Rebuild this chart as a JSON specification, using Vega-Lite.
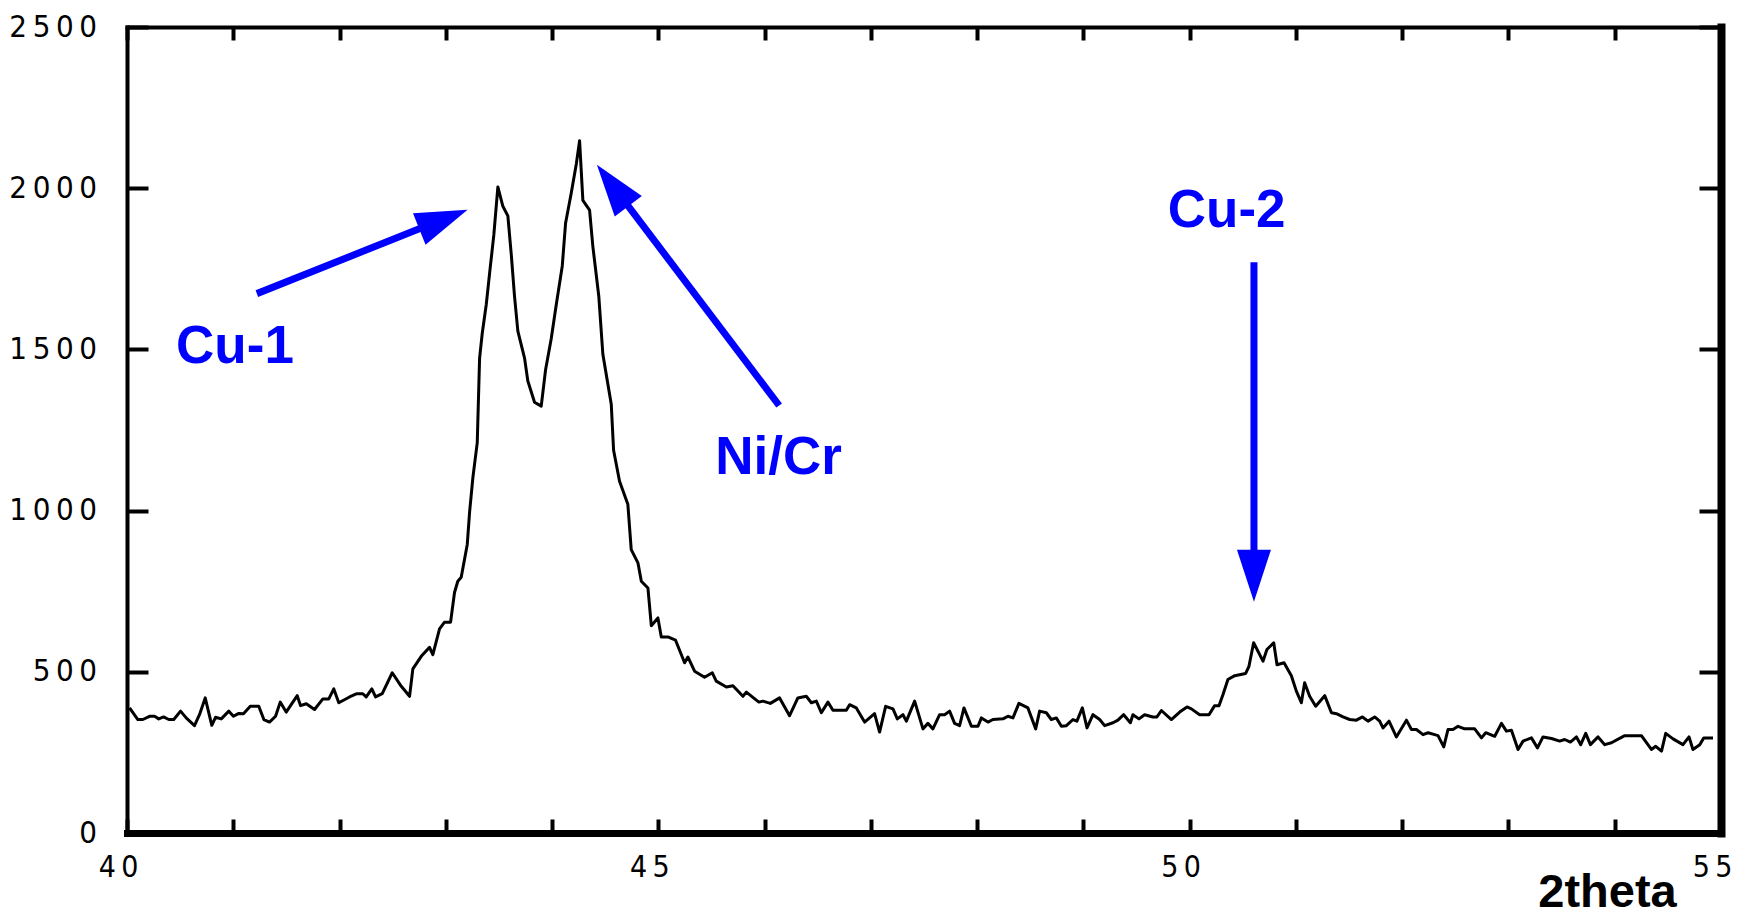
{
  "$schema": "https://vega.github.io/schema/vega-lite/v6.json",
  "width": 1594,
  "height": 806,
  "autosize": {"type": "none"},
  "padding": {"left": 127, "top": 27, "right": 18, "bottom": 86},
  "background": "white",
  "config": {"view": {"stroke": null}, "axis": {"grid": false}},
  "datasets": {
    "xrd": [
      {"t":40.024,"i":388},{"t":40.102,"i":352},{"t":40.149,"i":352},{"t":40.212,"i":362},{"t":40.259,"i":362},{"t":40.299,"i":354},{"t":40.344,"i":360},{"t":40.393,"i":352},{"t":40.44,"i":352},{"t":40.504,"i":378},{"t":40.557,"i":357},{"t":40.635,"i":333},{"t":40.682,"i":367},{"t":40.736,"i":419},{"t":40.798,"i":334},{"t":40.833,"i":359},{"t":40.887,"i":354},{"t":40.958,"i":378},{"t":41.002,"i":362},{"t":41.052,"i":371},{"t":41.096,"i":370},{"t":41.16,"i":393},{"t":41.24,"i":393},{"t":41.288,"i":352},{"t":41.341,"i":344},{"t":41.398,"i":362},{"t":41.442,"i":406},{"t":41.498,"i":375},{"t":41.545,"i":398},{"t":41.602,"i":426},{"t":41.633,"i":395},{"t":41.687,"i":401},{"t":41.765,"i":383},{"t":41.843,"i":416},{"t":41.899,"i":416},{"t":41.946,"i":447},{"t":41.993,"i":404},{"t":42.094,"i":422},{"t":42.163,"i":432},{"t":42.219,"i":432},{"t":42.251,"i":422},{"t":42.304,"i":447},{"t":42.339,"i":422},{"t":42.402,"i":432},{"t":42.496,"i":497},{"t":42.581,"i":455},{"t":42.659,"i":424},{"t":42.69,"i":509},{"t":42.769,"i":548},{"t":42.847,"i":576},{"t":42.878,"i":553},{"t":42.941,"i":633},{"t":42.988,"i":654},{"t":43.045,"i":654},
      {"t":43.082,"i":746},{"t":43.113,"i":781},{"t":43.145,"i":793},{"t":43.202,"i":895},{"t":43.224,"i":996},{"t":43.255,"i":1103},{"t":43.296,"i":1211},{"t":43.318,"i":1473},{"t":43.343,"i":1550},{"t":43.381,"i":1640},{"t":43.412,"i":1736},{"t":43.452,"i":1855},{"t":43.49,"i":2004},{"t":43.537,"i":1944},{"t":43.584,"i":1914},{"t":43.616,"i":1795},{"t":43.647,"i":1664},{"t":43.678,"i":1557},{"t":43.741,"i":1473},{"t":43.772,"i":1402},{"t":43.835,"i":1336},{"t":43.898,"i":1324},{"t":43.939,"i":1437},{"t":43.992,"i":1533},{"t":44.04,"i":1640},{"t":44.096,"i":1759},{"t":44.127,"i":1891},{"t":44.181,"i":1986},{"t":44.228,"i":2075},{"t":44.259,"i":2147},{"t":44.29,"i":1962},{"t":44.353,"i":1932},{"t":44.384,"i":1819},{"t":44.44,"i":1664},{"t":44.478,"i":1485},{"t":44.557,"i":1330},{"t":44.579,"i":1187},{"t":44.635,"i":1091},{"t":44.713,"i":1020},
      {"t":44.745,"i":879},{"t":44.808,"i":838},{"t":44.84,"i":781},{"t":44.902,"i":760},{"t":44.934,"i":643},{"t":44.996,"i":667},{"t":45.028,"i":608},{"t":45.09,"i":608},{"t":45.162,"i":598},{"t":45.247,"i":528},{"t":45.278,"i":546},{"t":45.341,"i":502},{"t":45.435,"i":483},{"t":45.508,"i":497},{"t":45.545,"i":471},{"t":45.64,"i":453},{"t":45.702,"i":457},{"t":45.796,"i":424},{"t":45.828,"i":437},{"t":45.946,"i":406},{"t":45.984,"i":409},{"t":46.054,"i":402},{"t":46.141,"i":419},{"t":46.235,"i":364},{"t":46.313,"i":419},{"t":46.392,"i":424},{"t":46.44,"i":404},{"t":46.487,"i":409},{"t":46.534,"i":373},{"t":46.596,"i":406},{"t":46.643,"i":381},{"t":46.769,"i":381},{"t":46.8,"i":398},{"t":46.863,"i":388},{"t":46.941,"i":344},{"t":47.035,"i":370},{"t":47.082,"i":313},{"t":47.139,"i":393},{"t":47.208,"i":385},{"t":47.249,"i":354},{"t":47.302,"i":367},{"t":47.334,"i":347},{"t":47.412,"i":409},{"t":47.49,"i":323},{"t":47.537,"i":340},{"t":47.584,"i":323},{"t":47.647,"i":367},{"t":47.694,"i":367},{"t":47.741,"i":378},{"t":47.788,"i":340},{"t":47.835,"i":333},{"t":47.876,"i":388},{"t":47.946,"i":331},{"t":48.008,"i":331},{"t":48.04,"i":357},{"t":48.102,"i":344},{"t":48.149,"i":352},{"t":48.243,"i":354},{"t":48.29,"i":362},{"t":48.337,"i":357},{"t":48.393,"i":402},{"t":48.478,"i":388},{"t":48.551,"i":323},{"t":48.588,"i":378},{"t":48.651,"i":373},{"t":48.698,"i":352},{"t":48.745,"i":357},{"t":48.793,"i":331},{"t":48.84,"i":333},{"t":48.902,"i":352},{"t":48.939,"i":347},{"t":48.99,"i":388},{"t":49.034,"i":326},{"t":49.09,"i":367},{"t":49.153,"i":352},
      {"t":49.2,"i":333},{"t":49.278,"i":342},{"t":49.325,"i":350},{"t":49.379,"i":367},{"t":49.442,"i":342},{"t":49.466,"i":367},{"t":49.523,"i":354},{"t":49.576,"i":367},{"t":49.654,"i":360},{"t":49.692,"i":360},{"t":49.734,"i":380},{"t":49.828,"i":352},{"t":49.906,"i":375},{"t":49.975,"i":391},{"t":50.016,"i":385},{"t":50.094,"i":367},{"t":50.182,"i":367},{"t":50.235,"i":395},{"t":50.276,"i":395},{"t":50.313,"i":429},{"t":50.36,"i":476},{"t":50.424,"i":488},{"t":50.527,"i":495},{"t":50.558,"i":517},{"t":50.602,"i":590},{"t":50.69,"i":533},{"t":50.727,"i":569},{"t":50.791,"i":590},{"t":50.822,"i":522},{"t":50.888,"i":528},{"t":50.957,"i":488},{"t":51.004,"i":440},{"t":51.051,"i":404},{"t":51.082,"i":466},{"t":51.129,"i":424},{"t":51.186,"i":393},{"t":51.271,"i":426},{"t":51.334,"i":373},{"t":51.381,"i":370},{"t":51.443,"i":360},{"t":51.506,"i":352},{"t":51.569,"i":350},{"t":51.626,"i":360},{"t":51.678,"i":347},{"t":51.741,"i":360},
      {"t":51.788,"i":347},{"t":51.819,"i":326},{"t":51.876,"i":347},{"t":51.945,"i":298},{"t":52.04,"i":350},{"t":52.087,"i":321},{"t":52.134,"i":321},{"t":52.196,"i":305},{"t":52.243,"i":311},{"t":52.306,"i":305},{"t":52.337,"i":302},{"t":52.391,"i":267},{"t":52.431,"i":321},{"t":52.478,"i":321},{"t":52.525,"i":331},{"t":52.588,"i":323},{"t":52.682,"i":323},{"t":52.746,"i":295},{"t":52.786,"i":311},{"t":52.831,"i":305},{"t":52.871,"i":300},{"t":52.934,"i":340},{"t":52.981,"i":316},{"t":53.028,"i":319},{"t":53.09,"i":259},{"t":53.137,"i":285},{"t":53.216,"i":295},{"t":53.273,"i":264},{"t":53.325,"i":298},{"t":53.405,"i":293},{"t":53.482,"i":285},{"t":53.529,"i":290},{"t":53.583,"i":282},{"t":53.64,"i":298},{"t":53.68,"i":274},{"t":53.727,"i":309},{"t":53.771,"i":274},{"t":53.843,"i":298},{"t":53.906,"i":274},{"t":53.969,"i":280},{"t":54.094,"i":302},{"t":54.251,"i":302},{"t":54.345,"i":259},{"t":54.386,"i":269},{"t":54.44,"i":254},{"t":54.48,"i":309},{"t":54.549,"i":292},{"t":54.642,"i":274},{"t":54.699,"i":298},{"t":54.736,"i":259},{"t":54.8,"i":274},{"t":54.838,"i":295},{"t":54.925,"i":295}
    ],
    "arrows": [
      {"name":"Cu-1","xs":41.222,"ys":1673,"xe":42.986,"ye":1905,"xt":43.205,"yt":1933},
      {"name":"Ni/Cr","xs":46.137,"ys":1326,"xe":44.564,"ye":2011,"xt":44.422,"yt":2073},
      {"name":"Cu-2","xs":50.605,"ys":1770,"xe":50.605,"ye":795,"xt":50.605,"yt":717}
    ],
    "labels": [
      {"name":"Cu-1","x":41.016,"y":1459},
      {"name":"Ni/Cr","x":46.132,"y":1112},
      {"name":"Cu-2","x":50.348,"y":1881}
    ]
  },
  "layer": [
    {
      "data": {"name": "xrd"},
      "mark": {"type": "line", "color": "black", "strokeWidth": 3, "strokeJoin": "round"},
      "encoding": {
        "x": {
          "field": "t", "type": "quantitative",
          "scale": {"domain": [40, 55], "nice": false, "zero": false},
          "axis": {
            "orient": "bottom",
            "values": [40,41,42,43,44,45,46,47,48,49,50,51,52,53,54,55],
            "format": "d",
            "labelExpr": "datum.value % 5 === 0 ? join(split(datum.label, ''), '\u2009') : ''",
            "tickSize": -14, "tickWidth": 4, "tickColor": "black",
            "domainColor": "black", "domainWidth": 7, "domainCap": "square",
            "labelFont": "DejaVu Sans Condensed",
            "labelFontSize": 30, "labelColor": "black", "labelPadding": 33.5,
            "labelBaseline": "top", "labelOffset": -9, "labelFlush": false, "labelOverlap": false, "labelBound": false,
            "title": "2theta", "titleX": 1480, "titleY": 73, "titleBaseline": "alphabetic",
            "titleAlign": "center", "titleAnchor": null, "titleFont": "Liberation Sans", "titleFontSize": 47,
            "titleFontWeight": "bold", "titleColor": "black", "titleAngle": 0
          }
        },
        "y": {
          "field": "i", "type": "quantitative",
          "scale": {"domain": [0, 2500], "nice": false, "zero": true},
          "axis": {
            "orient": "left",
            "values": [0, 500, 1000, 1500, 2000, 2500],
            "format": "d",
            "labelExpr": "join(split(datum.label, ''), '\u2009')",
            "tickSize": -21, "tickWidth": 4, "tickColor": "black",
            "domainColor": "black", "domainWidth": 4, "domainCap": "square",
            "labelFont": "DejaVu Sans Condensed",
            "labelFontSize": 31, "labelColor": "black", "labelPadding": 51.5,
            "labelBaseline": "middle", "labelAlign": "right", "labelFlush": false, "labelOverlap": false, "labelBound": false,
            "title": null
          }
        }
      }
    },
    {
      "data": {"name": "xrd"},
      "mark": {"type": "line", "color": "black", "strokeOpacity": 0},
      "encoding": {
        "x": {
          "field": "t", "type": "quantitative",
          "scale": {"domain": [40, 55], "nice": false, "zero": false},
          "axis": {
            "orient": "top",
            "values": [40,41,42,43,44,45,46,47,48,49,50,51,52,53,54,55],
            "labels": false, "title": null,
            "tickSize": -13, "tickWidth": 4, "tickColor": "black",
            "domainColor": "black", "domainWidth": 4, "domainCap": "square"
          }
        },
        "y": {
          "field": "i", "type": "quantitative",
          "scale": {"domain": [0, 2500], "nice": false, "zero": true},
          "axis": {
            "orient": "right",
            "values": [0, 500, 1000, 1500, 2000, 2500],
            "labels": false, "title": null,
            "tickSize": -22, "tickWidth": 4, "tickColor": "black",
            "domainColor": "black", "domainWidth": 8, "domainCap": "square"
          }
        }
      }
    },
    {
      "data": {"name": "arrows"},
      "mark": {"type": "rule", "color": "#0000ff", "strokeWidth": 7, "strokeCap": "butt"},
      "encoding": {
        "x": {"field": "xs", "type": "quantitative", "scale": {"domain": [40, 55], "nice": false, "zero": false}, "axis": null},
        "y": {"field": "ys", "type": "quantitative", "scale": {"domain": [0, 2500], "nice": false}, "axis": null},
        "x2": {"field": "xe"},
        "y2": {"field": "ye"}
      }
    },
    {
      "data": {"name": "arrows"},
      "transform": [{"filter": "datum.name === 'Cu-1'"}],
      "mark": {"type": "point", "shape": "M0,0L-0.327,1L0.327,1Z", "filled": true, "size": 10816, "color": "#0000ff", "opacity": 1, "strokeWidth": 0, "angle": 68.3},
      "encoding": {
        "x": {"field": "xt", "type": "quantitative", "scale": {"domain": [40, 55], "nice": false, "zero": false}, "axis": null},
        "y": {"field": "yt", "type": "quantitative", "scale": {"domain": [0, 2500], "nice": false}, "axis": null}
      }
    },
    {
      "data": {"name": "arrows"},
      "transform": [{"filter": "datum.name === 'Ni/Cr'"}],
      "mark": {"type": "point", "shape": "M0,0L-0.327,1L0.327,1Z", "filled": true, "size": 10816, "color": "#0000ff", "opacity": 1, "strokeWidth": 0, "angle": 322.9},
      "encoding": {
        "x": {"field": "xt", "type": "quantitative", "scale": {"domain": [40, 55], "nice": false, "zero": false}, "axis": null},
        "y": {"field": "yt", "type": "quantitative", "scale": {"domain": [0, 2500], "nice": false}, "axis": null}
      }
    },
    {
      "data": {"name": "arrows"},
      "transform": [{"filter": "datum.name === 'Cu-2'"}],
      "mark": {"type": "point", "shape": "M0,0L-0.327,1L0.327,1Z", "filled": true, "size": 10816, "color": "#0000ff", "opacity": 1, "strokeWidth": 0, "angle": 180},
      "encoding": {
        "x": {"field": "xt", "type": "quantitative", "scale": {"domain": [40, 55], "nice": false, "zero": false}, "axis": null},
        "y": {"field": "yt", "type": "quantitative", "scale": {"domain": [0, 2500], "nice": false}, "axis": null}
      }
    },
    {
      "data": {"name": "labels"},
      "mark": {"type": "text", "align": "center", "baseline": "alphabetic", "font": "Liberation Sans", "fontWeight": "bold", "fontSize": 53, "color": "#0000ff"},
      "encoding": {
        "x": {"field": "x", "type": "quantitative", "scale": {"domain": [40, 55], "nice": false, "zero": false}, "axis": null},
        "y": {"field": "y", "type": "quantitative", "scale": {"domain": [0, 2500], "nice": false}, "axis": null},
        "text": {"field": "name"}
      }
    }
  ],
  "resolve": {"axis": {"x": "independent", "y": "independent"}}
}
